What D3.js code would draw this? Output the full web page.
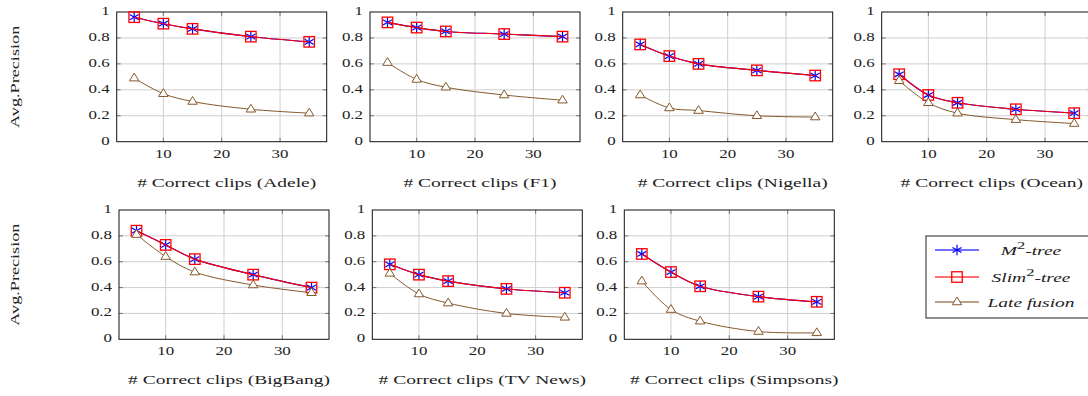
<!DOCTYPE html>
<html>
<head>
<meta charset="utf-8">
<script src="https://cdn.jsdelivr.net/npm/d3@7"></script>
<style>
  html, body { margin: 0; padding: 0; background: #fff; }
  svg { display: block; }
  text { font-family: "Liberation Serif", "DejaVu Serif", serif; fill: #222; }
</style>
</head>
<body>
<svg id="chart" width="1088" height="396"></svg>
<script>
// ---- data ----
const clipCounts = [5, 10, 15, 25, 35];
const datasetNames = ["Adele", "F1", "Nigella", "Ocean", "BigBang", "TV News", "Simpsons"];
const m2Tree = [
  [0.96, 0.91, 0.87, 0.81, 0.77],
  [0.92, 0.88, 0.85, 0.83, 0.81],
  [0.75, 0.66, 0.60, 0.55, 0.51],
  [0.52, 0.36, 0.30, 0.25, 0.22],
  [0.84, 0.73, 0.62, 0.50, 0.40],
  [0.58, 0.50, 0.45, 0.39, 0.36],
  [0.66, 0.52, 0.41, 0.33, 0.29]
];
const slim2Tree = [
  [0.96, 0.91, 0.87, 0.81, 0.77],
  [0.92, 0.88, 0.85, 0.83, 0.81],
  [0.75, 0.66, 0.60, 0.55, 0.51],
  [0.52, 0.36, 0.30, 0.25, 0.22],
  [0.84, 0.73, 0.62, 0.50, 0.40],
  [0.58, 0.50, 0.45, 0.39, 0.36],
  [0.66, 0.52, 0.41, 0.33, 0.29]
];
const lateFusion = [
  [0.49, 0.37, 0.31, 0.25, 0.22],
  [0.61, 0.48, 0.42, 0.36, 0.32],
  [0.36, 0.26, 0.24, 0.20, 0.19],
  [0.47, 0.30, 0.22, 0.17, 0.14],
  [0.81, 0.64, 0.52, 0.42, 0.36],
  [0.51, 0.35, 0.28, 0.20, 0.17],
  [0.45, 0.23, 0.14, 0.06, 0.05]
];
const xTicks = [10, 20, 30];
const yTicks = [0, 0.2, 0.4, 0.6, 0.8, 1];
const yTickLabels = ["0", "0.2", "0.4", "0.6", "0.8", "1"];

// ---- layout ----
const panelBoxes = [
  {x: 116.7, y: 12, w: 210, h: 129.7},
  {x: 370.0, y: 12, w: 210, h: 129.7},
  {x: 622.7, y: 12, w: 210, h: 129.7},
  {x: 881.7, y: 12, w: 210, h: 129.7},
  {x: 119.0, y: 210, w: 210, h: 129.3},
  {x: 372.3, y: 210, w: 210, h: 129.3},
  {x: 624.3, y: 210, w: 210, h: 129.3}
];
const colors = {m2: "#0000ff", slim: "#ff0000", late: "#85582b"};
const FS = 13;        // font size
const SX_TICK = 1.3;  // horizontal stretch for tick labels (wide CM look)
const SX_LAB = 1.5;   // horizontal stretch for labels
const svg = d3.select("#chart");

function stext(g, x, y, str, anchor, sx, rot) {
  const tr = `translate(${x},${y})` + (rot ? ` rotate(${rot})` : "") + ` scale(${sx},1)`;
  return g.append("text").attr("transform", tr)
    .attr("text-anchor", anchor).attr("dominant-baseline", "middle")
    .attr("font-size", FS).text(str);
}
function asterisk(g, x, y, r, color) {
  const a = g.append("g").attr("transform", `translate(${x},${y})`);
  [90, 30, -30].forEach(deg => {
    const rad = deg * Math.PI / 180;
    a.append("line")
      .attr("x1", -r * Math.cos(rad)).attr("y1", -r * Math.sin(rad))
      .attr("x2", r * Math.cos(rad)).attr("y2", r * Math.sin(rad))
      .attr("stroke", color).attr("stroke-width", 1.2);
  });
}
function square(g, x, y, s, color) {
  g.append("rect").attr("x", x - s / 2).attr("y", y - s / 2)
    .attr("width", s).attr("height", s)
    .attr("fill", "none").attr("stroke", color).attr("stroke-width", 1.3);
}
function triangle(g, x, y, r, color) {
  const hw = r * 0.95;
  g.append("path")
    .attr("d", `M${x},${y - r} L${x + hw},${y + r * 0.55} L${x - hw},${y + r * 0.55} Z`)
    .attr("fill", "#fff").attr("stroke", color).attr("stroke-width", 1);
}

datasetNames.forEach((name, i) => {
  const b = panelBoxes[i];
  const x = d3.scaleLinear().domain([2, 38]).range([b.x, b.x + b.w]);
  const y = d3.scaleLinear().domain([0, 1]).range([b.y + b.h, b.y]);
  const g = svg.append("g");

  // grid
  g.selectAll(".gx").data(xTicks).join("line")
    .attr("x1", d => x(d)).attr("x2", d => x(d))
    .attr("y1", b.y).attr("y2", b.y + b.h)
    .attr("stroke", "#cfcfcf").attr("stroke-width", 1);
  g.selectAll(".gy").data(yTicks.slice(1, -1)).join("line")
    .attr("x1", b.x).attr("x2", b.x + b.w)
    .attr("y1", d => y(d)).attr("y2", d => y(d))
    .attr("stroke", "#cfcfcf").attr("stroke-width", 1);

  // inner tick marks
  const tl = 4;
  xTicks.forEach(t => {
    g.append("line").attr("x1", x(t)).attr("x2", x(t)).attr("y1", b.y + b.h).attr("y2", b.y + b.h - tl)
      .attr("stroke", "#777").attr("stroke-width", 1);
    g.append("line").attr("x1", x(t)).attr("x2", x(t)).attr("y1", b.y).attr("y2", b.y + tl)
      .attr("stroke", "#777").attr("stroke-width", 1);
  });
  yTicks.slice(1, -1).forEach(t => {
    g.append("line").attr("x1", b.x).attr("x2", b.x + tl).attr("y1", y(t)).attr("y2", y(t))
      .attr("stroke", "#777").attr("stroke-width", 1);
    g.append("line").attr("x1", b.x + b.w).attr("x2", b.x + b.w - tl).attr("y1", y(t)).attr("y2", y(t))
      .attr("stroke", "#777").attr("stroke-width", 1);
  });

  // frame
  g.append("rect").attr("x", b.x).attr("y", b.y).attr("width", b.w).attr("height", b.h)
    .attr("fill", "none").attr("stroke", "#111").attr("stroke-width", 1);

  // tick labels (positions from the scales)
  xTicks.forEach(t => stext(g, x(t), b.y + b.h + 13, d3.format("d")(t), "middle", SX_TICK));
  yTicks.forEach((t, k) => stext(g, b.x - 7, y(t), yTickLabels[k], "end", SX_TICK));

  // x label
  stext(g, b.x + b.w / 2 + 5, b.y + b.h + 42, `# Correct clips (${name})`, "middle", SX_LAB);

  // y label (first column only)
  if (i === 0 || i === 4) {
    stext(g, 16, b.y + b.h / 2, "Avg.Precision", "middle", SX_LAB - 0.1, -90);
  }

  // series
  const line = d3.line().x((d, k) => x(clipCounts[k])).y(d => y(d))
    .curve(d3.curveCatmullRom.alpha(0.5));
  const pts = (arr) => arr.map((v, k) => [x(clipCounts[k]), y(v)]);

  g.append("path").attr("d", line(m2Tree[i])).attr("fill", "none")
    .attr("stroke", colors.m2).attr("stroke-width", 1.1);
  pts(m2Tree[i]).forEach(p => asterisk(g, p[0], p[1], 5.2, colors.m2));

  g.append("path").attr("d", line(slim2Tree[i])).attr("fill", "none")
    .attr("stroke", colors.slim).attr("stroke-width", 1.1);
  pts(slim2Tree[i]).forEach(p => square(g, p[0], p[1], 10.5, colors.slim));

  g.append("path").attr("d", line(lateFusion[i])).attr("fill", "none")
    .attr("stroke", colors.late).attr("stroke-width", 1);
  pts(lateFusion[i]).forEach(p => triangle(g, p[0], p[1], 5, colors.late));
});

// ---- legend ----
const leg = svg.append("g");
const lx = 926, ly = 236, lw = 170, lh = 82;
leg.append("rect").attr("x", lx).attr("y", ly).attr("width", lw).attr("height", lh)
  .attr("fill", "#fff").attr("stroke", "#222").attr("stroke-width", 1);
const rowsY = [250, 277, 302];
const legColors = [colors.m2, colors.slim, colors.late];
rowsY.forEach((ry, k) => {
  leg.append("line").attr("x1", 935).attr("x2", 979).attr("y1", ry).attr("y2", ry)
    .attr("stroke", legColors[k]).attr("stroke-width", 1.3).attr("stroke-opacity", 0.75);
  if (k === 0) asterisk(leg, 957, ry, 5.2, colors.m2);
  if (k === 1) square(leg, 957, ry, 10.5, colors.slim);
  if (k === 2) triangle(leg, 957, ry, 5, colors.late);
});
function legText(ry, parts) {
  const t = leg.append("text")
    .attr("transform", `translate(1031,${ry + 4.5}) scale(${SX_LAB},1)`)
    .attr("text-anchor", "middle").attr("font-size", FS).attr("font-style", "italic");
  parts.forEach(p => {
    const s = t.append("tspan").text(p.t);
    if (p.sup) s.attr("font-style", "normal").attr("font-size", 11).attr("dy", -6);
    if (p.down) s.attr("dy", 6);
  });
}
legText(rowsY[0], [{t: "M"}, {t: "2", sup: true}, {t: "-tree", down: true}]);
legText(rowsY[1], [{t: "Slim"}, {t: "2", sup: true}, {t: "-tree", down: true}]);
legText(rowsY[2], [{t: "Late fusion"}]);
</script>
</body>
</html>
